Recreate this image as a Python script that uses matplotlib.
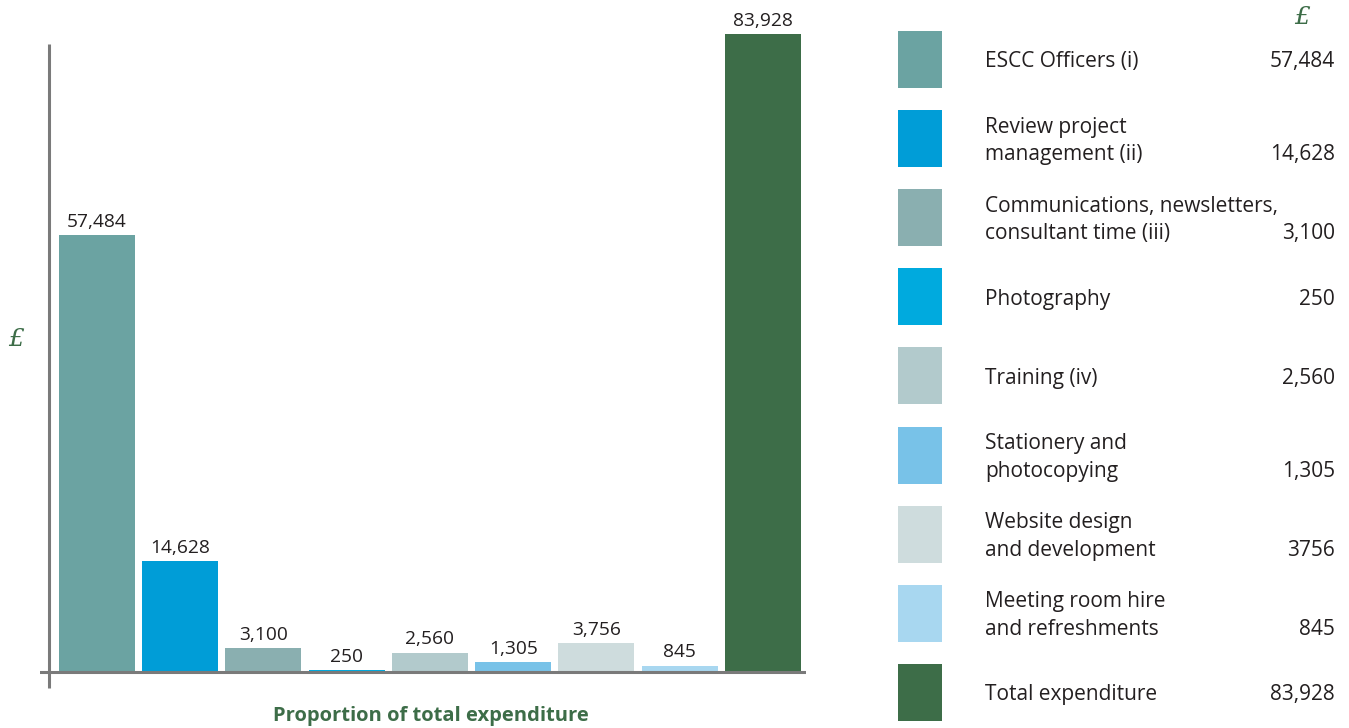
import matplotlib.pyplot as plt
from matplotlib.patches import Rectangle

plt.rcParams['font.family'] = ['Open Sans', 'DejaVu Sans']

categories = ['ESCC Officers (i)', 'Review project\nmanagement (ii)',
              'Communications, newsletters,\nconsultant time (iii)', 'Photography',
              'Training (iv)', 'Stationery and\nphotocopying',
              'Website design\nand development', 'Meeting room hire\nand refreshments',
              'Total expenditure']
values = [57484, 14628, 3100, 250, 2560, 1305, 3756, 845, 83928]
bar_labels = ['57,484', '14,628', '3,100', '250', '2,560', '1,305', '3,756', '845', '83,928']
legend_values = ['57,484', '14,628', '3,100', '250', '2,560', '1,305', '3756', '845', '83,928']

colors = ['#6BA3A2', '#009DD7', '#8AAFB0', '#00AADE', '#B2CACC',
          '#78C2E8', '#CEDCDD', '#A8D7F0', '#3D6D48']
green = '#3D6D48'
textc = '#231F20'
axisc = '#7A7A7A'

W, H = 1349, 728
fig = plt.figure(figsize=(W / 100, H / 100), dpi=100)

# main bar axes (pixel box: x 40..806, y 34..688)
ax = fig.add_axes([40 / W, (H - 688) / H, 766 / W, 654 / H])
ppu = 83.25  # pixels per bar slot
x = list(range(len(values)))
ymax = values[-1]
ybot = -(688 - 672) / 637 * ymax
ax.bar(x, values, width=76 / ppu, color=colors, zorder=2)
ax.set_xlim(-(97 - 40) / ppu, 8 + (806 - 763) / ppu)
ax.set_ylim(ybot, ymax)
ax.axis('off')

# axis lines
vx = -(97 - 49) / ppu
ax.plot([vx, vx], [ybot, (672 - 45) / 637 * ymax], color=axisc, lw=2.2,
        clip_on=False, solid_capstyle='butt', zorder=3)
ax.axhline(0, color=axisc, lw=2.2, zorder=3)

for xi, v, lab in zip(x, values, bar_labels):
    ax.annotate(lab, (xi, v), xytext=(0, 3), textcoords='offset points',
                ha='center', va='bottom', fontsize=13.8, color=textc,
                annotation_clip=False)

fig.text(16 / W, 1 - 340 / H, '£', color=green, fontsize=18, ha='center', va='center',
         fontstyle='italic', family=['DejaVu Serif'])
fig.text(431 / W, 1 - 716 / H, 'Proportion of total expenditure', color=green,
         fontsize=14.5, fontweight='bold', ha='center', va='center')

# legend panel in pixel coordinates
lg = fig.add_axes([0, 0, 1, 1])
lg.set_xlim(0, W)
lg.set_ylim(H, 0)
lg.axis('off')
lg.patch.set_alpha(0)

lg.text(1302, 18, '£', color=green, fontsize=18, ha='center', va='center',
        fontstyle='italic', family=['DejaVu Serif'])
for i, (cat, val, c) in enumerate(zip(categories, legend_values, colors)):
    top = 31 + i * 79.1
    lg.add_patch(Rectangle((898, top), 44, 57, color=c, lw=0))
    cy = top + 31
    lg.text(985, cy, cat, ha='left', va='center', fontsize=15, color=textc,
            linespacing=1.4)
    vtxt = ('\n' + val) if '\n' in cat else val
    lg.text(1335, cy, vtxt, ha='right', va='center', fontsize=15, color=textc,
            linespacing=1.4)

fig.savefig('out.png', dpi=100)
